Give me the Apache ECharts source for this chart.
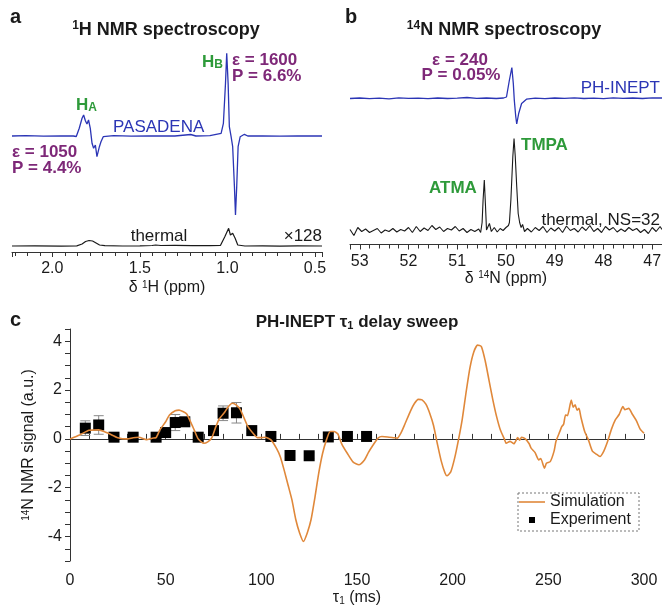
<!DOCTYPE html>
<html>
<head>
<meta charset="utf-8">
<script src="https://cdn.jsdelivr.net/npm/echarts/dist/echarts.min.js"></script>
<style>
  html, body { margin: 0; padding: 0; background: #fff; }
  #chart { width: 662px; height: 608px; }
</style>
</head>
<body>
<div id="chart"></div>
<script>
// panel a: 1H spectra, [ppm, signal]
const pasadena = [
  [2.23, 116], [2.15, 116.3], [2.05, 115.8], [1.95, 116.2], [1.88, 116], [1.863, 115.5],
  [1.846, 123.7], [1.83, 133.7], [1.821, 137], [1.811, 131.3], [1.802, 128], [1.793, 132],
  [1.783, 123.7], [1.773, 108.7], [1.764, 103.7], [1.754, 107], [1.745, 95.3], [1.731, 105.3],
  [1.722, 110.3], [1.709, 115.3], [1.65, 116.3], [1.55, 115.8], [1.45, 116.2], [1.3, 116],
  [1.21, 117.5], [1.18, 116], [1.1, 116.3], [1.036, 118.7], [1.023, 128.7], [1.011, 168.7],
  [1.004, 198.7], [0.996, 168.7], [0.989, 125.3], [0.979, 115.3], [0.97, 105.3], [0.96, 65.3],
  [0.954, 37], [0.947, 65.3], [0.939, 105.3], [0.927, 115.3], [0.903, 117.7], [0.884, 116],
  [0.8, 116.2], [0.7, 115.9], [0.6, 116.1], [0.46, 116]
];
const thermalH = [
  [2.23, 6], [2.1, 6.2], [1.95, 5.9], [1.86, 6.1], [1.83, 8], [1.81, 10.5], [1.79, 11.5],
  [1.77, 11], [1.75, 9], [1.73, 7], [1.7, 6.3], [1.6, 6], [1.5, 6.2], [1.43, 6.5], [1.42, 8],
  [1.41, 7], [1.38, 6.5], [1.3, 6.6], [1.2, 6.3], [1.1, 6.4], [1.04, 6.5], [1.03, 8],
  [1.015, 15.3], [1.004, 17], [0.993, 23.7], [0.983, 17], [0.97, 18.7], [0.956, 13.7],
  [0.941, 7], [0.9, 6], [0.8, 6.2], [0.7, 5.9], [0.6, 6.1], [0.46, 6]
];

// panel b: 14N spectra, [ppm, signal]
const phInept = [
  [53.2, 146], [53.0, 146.5], [52.8, 145.8], [52.6, 146.3], [52.4, 145.7], [52.2, 146.7],
  [52.0, 146.1], [51.8, 146.4], [51.6, 145.8], [51.4, 146.5], [51.2, 146], [51.0, 146.3],
  [50.8, 147], [50.6, 146.1], [50.4, 146.5], [50.2, 146], [50.05, 146.5], [49.99, 147.5],
  [49.93, 164.5], [49.88, 177], [49.85, 161], [49.83, 144.5], [49.8, 128], [49.78, 120.5],
  [49.74, 131], [49.68, 141], [49.58, 145.3], [49.4, 146.3], [49.2, 145.8], [49.0, 146.5],
  [48.8, 146.1], [48.6, 146.7], [48.4, 146], [48.2, 146.4], [48.0, 145.9], [47.8, 146.6],
  [47.6, 146.1], [47.4, 146.5], [47.2, 146], [47.0, 146.7], [46.8, 146.5]
];
const thermalN = [
  [53.2, 15], [53.12, 9], [53.04, 17], [52.96, 13], [52.88, 15.5], [52.8, 12], [52.72, 14],
  [52.64, 16], [52.56, 11.5], [52.48, 14.5], [52.4, 13], [52.32, 16], [52.24, 12.5], [52.16, 15],
  [52.08, 13.5], [52.0, 17], [51.92, 12], [51.84, 18], [51.76, 13], [51.68, 16.5], [51.6, 14],
  [51.52, 19], [51.44, 15], [51.36, 17.5], [51.28, 13], [51.2, 16], [51.12, 14.5], [51.04, 18],
  [50.96, 13.5], [50.88, 16], [50.8, 12], [50.72, 15], [50.64, 13], [50.56, 15.5], [50.52, 12],
  [50.49, 22], [50.47, 44.5], [50.445, 64.5], [50.42, 38], [50.4, 14.5], [50.37, 16], [50.34, 21],
  [50.3, 13], [50.24, 17], [50.18, 12.5], [50.12, 16], [50.06, 14], [50.0, 17], [49.95, 19],
  [49.93, 22], [49.9, 44.5], [49.86, 88], [49.835, 106], [49.81, 88], [49.78, 58], [49.75, 31],
  [49.72, 22], [49.69, 17], [49.66, 20], [49.62, 13], [49.56, 16], [49.48, 12.5], [49.4, 17],
  [49.32, 14], [49.24, 18], [49.16, 12], [49.08, 16.5], [49.0, 13.5], [48.92, 17], [48.84, 12],
  [48.76, 18.5], [48.68, 14], [48.6, 16], [48.52, 12.5], [48.44, 17.5], [48.36, 14], [48.28, 19],
  [48.2, 13], [48.12, 16], [48.04, 12], [47.96, 18], [47.88, 14.5], [47.8, 17], [47.72, 12.5],
  [47.64, 15.5], [47.56, 13], [47.48, 17], [47.4, 14], [47.32, 16], [47.24, 12], [47.16, 15],
  [47.08, 11], [47.0, 17], [46.92, 13], [46.84, 18], [46.8, 15]
];

// panel c: tau1 sweep
const simulation = [
  [0, 0], [5, 0.16], [10, 0.35], [15, 0.37], [20, 0.23], [25, 0.05], [30, 0], [33, 0.05],
  [36, 0.07], [40, -0.03], [43, 0.03], [45, 0.05], [47, 0.37], [50, 0.7], [52, 0.98],
  [55, 1.15], [57, 1.18], [59, 1.12], [61, 1.02], [63, 0.7], [65, 0.35], [67, 0], [70, -0.18],
  [72, -0.12], [74, 0.03], [76, 0.45], [78, 0.82], [81, 1.11], [83, 1.35], [85, 1.46],
  [87, 1.38], [89, 1.2], [91, 0.85], [93, 0.5], [96, 0.2], [98, 0.05], [100, 0.05],
  [102, 0.07], [105, -0.04], [108, -0.4], [110, -0.75], [112, -1.3], [114, -1.9], [116, -2.5],
  [118, -3.3], [120, -3.85], [122, -4.2], [124, -3.85], [126, -3.3], [128, -2.4], [130, -1.4],
  [132, -0.6], [134, -0.05], [136, 0.3], [138, 0.3], [140, 0.2], [142, -0.2], [145, -0.6],
  [148, -0.95], [151, -1.06], [154, -0.85], [156, -0.55], [158, -0.3], [161, 0.03], [163, 0.1],
  [166, 0.08], [169, 0.05], [171, 0.03], [173, 0.25], [175, 0.6], [178, 1.15], [180, 1.45],
  [182, 1.62], [184, 1.6], [186, 1.42], [188, 1.05], [190, 0.55], [192, -0.2], [194, -0.9],
  [196, -1.4], [197, -1.51], [199, -1.35], [201, -0.8], [203, -0.05], [205, 0.8], [207, 1.9],
  [209, 2.9], [211, 3.55], [213, 3.84], [215, 3.78], [217, 3.2], [219, 2.4], [221, 1.6],
  [223, 0.9], [225, 0.35], [227, 0], [228, -0.18], [230, -0.1], [232, -0.2], [234, 0.05],
  [235, -0.05], [236, 0.07], [238, 0], [240, -0.2], [241, -0.38], [243, -0.55], [245, -0.86],
  [246, -0.8], [248, -1.2], [249, -1.0], [251, -0.93], [253, -0.5], [254, -0.1], [256, 0.3],
  [257, 0.5], [258, 0.6], [259, 0.98], [260, 0.95], [262, 1.59], [263, 1.3], [264, 1.4],
  [265, 1.18], [266, 1.25], [267, 0.9], [269, 0.3], [271, -0.05], [273, -0.5], [275, -0.62],
  [277, -0.72], [279, -0.5], [281, -0.1], [283, 0.4], [285, 0.78], [287, 1.0], [289, 1.32],
  [290, 1.2], [292, 1.25], [294, 1.0], [296, 0.75], [298, 0.4], [300, 0.23]
];
const expTau = [8, 15, 23, 33, 45, 50, 55, 60, 67, 75, 80, 87, 95, 105, 115, 125, 135, 145, 155];
const expSignal = [0.44, 0.57, 0.07, 0.07, 0.07, 0.26, 0.67, 0.7, 0.07, 0.34, 1.05, 1.07, 0.34, 0.1, -0.68, -0.69, 0.08, 0.1, 0.1];
const expError = [0.3, 0.38, 0.12, 0.12, 0.12, 0.12, 0.33, 0.15, 0.12, 0.12, 0.3, 0.42, 0.12, 0.12, 0.12, 0.12, 0.12, 0.12, 0.12];

const FONT = '"Liberation Sans", Arial, sans-serif';
const BLUE = '#2b35b5';
const PURPLE = '#7e2878';
const GREEN = '#2e9a3a';
const ORANGE = '#e0883a';
const INK = '#1a1a1a';

const supRich = {
  sup: { fontSize: 10, verticalAlign: 'top', lineHeight: 16 },
  sub: { fontSize: 10, verticalAlign: 'bottom', lineHeight: 16 }
};

function label (text, x, y, opts) {
  return {
    type: 'text',
    x: x,
    y: y,
    style: Object.assign({
      text: text,
      fontFamily: FONT,
      fontSize: 17,
      fontWeight: 'bold',
      fill: INK,
      textAlign: 'left',
      textVerticalAlign: 'middle'
    }, opts || {})
  };
}

const boldSup = {
  sup: { fontSize: 12, fontWeight: 'bold', verticalAlign: 'top', lineHeight: 20 },
  t: { fontSize: 18, fontWeight: 'bold', lineHeight: 20 }
};

const chart = echarts.init(document.getElementById('chart'));

const spectrumAxis = (gridIndex, min, max, nameText, nameGap, minorSplit, splitNumber, digits) => ({
  type: 'value',
  gridIndex: gridIndex,
  inverse: true,
  min: min,
  max: max,
  splitNumber: splitNumber,
  name: nameText,
  nameLocation: 'middle',
  nameGap: nameGap,
  nameTextStyle: { fontFamily: FONT, fontSize: 16, color: INK, rich: supRich },
  axisLine: { lineStyle: { color: '#333', width: 1 } },
  axisTick: { length: 5, lineStyle: { color: '#333' } },
  minorTick: { show: true, splitNumber: minorSplit, length: 4, lineStyle: { color: '#333' } },
  axisLabel: {
    fontFamily: FONT, fontSize: 16, color: INK, margin: 9,
    showMinLabel: false, showMaxLabel: false,
    formatter: (v) => v.toFixed(digits)
  },
  splitLine: { show: false }
});

chart.setOption({
  animation: false,
  grid: [
    { left: 12, top: 45, width: 310, height: 207, outerBoundsMode: 'none', containLabel: false },
    { left: 350, top: 37.5, width: 312, height: 207, outerBoundsMode: 'none', containLabel: false },
    { left: 70, top: 329, width: 574, height: 232, outerBoundsMode: 'none', containLabel: false }
  ],
  xAxis: [
    spectrumAxis(0, 0.46, 2.23, 'δ {sup|1}H (ppm)', 28, 7, 4, 1),
    spectrumAxis(1, 46.8, 53.2, 'δ {sup|14}N (ppm)', 26, 5, 6, 0),
    {
      type: 'value',
      gridIndex: 2,
      min: 0,
      max: 300,
      interval: 50,
      name: 'τ{sub|1} (ms)',
      nameLocation: 'middle',
      nameGap: 28,
      nameTextStyle: { fontFamily: FONT, fontSize: 16, color: INK, rich: supRich },
      axisLine: { lineStyle: { color: '#333' } },
      axisTick: { inside: true, length: 5, lineStyle: { color: '#333' } },
      minorTick: { show: true, splitNumber: 5, length: 5, lineStyle: { color: '#333' } },
      axisLabel: { fontFamily: FONT, fontSize: 16, color: INK, margin: 12 },
      splitLine: { show: false }
    }
  ],
  yAxis: [
    { type: 'value', gridIndex: 0, min: 0, max: 207, show: false },
    { type: 'value', gridIndex: 1, min: 0, max: 207, show: false },
    {
      type: 'value',
      gridIndex: 2,
      min: -5,
      max: 4.5,
      interval: 0.5,
      name: '{sup|14}N NMR signal (a.u.)',
      nameLocation: 'middle',
      nameGap: 32,
      nameTextStyle: { fontFamily: FONT, fontSize: 16, color: INK, rich: supRich },
      axisLine: { show: true, lineStyle: { color: '#333' } },
      axisTick: { show: true, length: 5, lineStyle: { color: '#333' } },
      axisLabel: {
        fontFamily: FONT,
        fontSize: 16,
        color: INK,
        margin: 8,
        formatter: (v) => (Math.abs(v % 2) < 1e-9 && v > -5 && v < 4.5) ? String(v) : ''
      },
      splitLine: { show: false }
    }
  ],
  legend: {
    left: 519,
    top: 494,
    orient: 'vertical',
    padding: 0,
    itemGap: 2,
    itemWidth: 26,
    itemHeight: 6,
    data: [
      { name: 'Simulation', icon: 'path://M0,0L26,0L26,1.6L0,1.6Z' },
      { name: 'Experiment', icon: 'path://M0,0L6,0L6,6L0,6Z' }
    ],
    textStyle: { fontFamily: FONT, fontSize: 16, color: INK, lineHeight: 16 }
  },
  series: [
    {
      type: 'line', xAxisIndex: 0, yAxisIndex: 0, data: pasadena,
      symbol: 'none', lineStyle: { color: BLUE, width: 1.3 }, silent: true
    },
    {
      type: 'line', xAxisIndex: 0, yAxisIndex: 0, data: thermalH,
      symbol: 'none', lineStyle: { color: INK, width: 1.2 }, silent: true
    },
    {
      type: 'line', xAxisIndex: 1, yAxisIndex: 1, data: phInept,
      symbol: 'none', lineStyle: { color: BLUE, width: 1.3 }, silent: true
    },
    {
      type: 'line', xAxisIndex: 1, yAxisIndex: 1, data: thermalN,
      symbol: 'none', lineStyle: { color: INK, width: 1.1 }, silent: true
    },
    {
      name: 'Simulation',
      type: 'line', xAxisIndex: 2, yAxisIndex: 2, data: simulation,
      smooth: 0.2, symbol: 'none', itemStyle: { color: ORANGE },
      lineStyle: { color: ORANGE, width: 1.6 }
    },
    {
      type: 'custom', xAxisIndex: 2, yAxisIndex: 2,
      data: expTau.map((t, i) => [t, expSignal[i] - expError[i], expSignal[i] + expError[i]]),
      renderItem: (params, api) => {
        const top = api.coord([api.value(0), api.value(2)]);
        const bot = api.coord([api.value(0), api.value(1)]);
        const w = 5;
        const st = { stroke: '#888', lineWidth: 1 };
        return {
          type: 'group',
          children: [
            { type: 'line', shape: { x1: top[0], y1: top[1], x2: bot[0], y2: bot[1] }, style: st },
            { type: 'line', shape: { x1: top[0] - w, y1: top[1], x2: top[0] + w, y2: top[1] }, style: st },
            { type: 'line', shape: { x1: bot[0] - w, y1: bot[1], x2: bot[0] + w, y2: bot[1] }, style: st }
          ]
        };
      }
    },
    {
      name: 'Experiment',
      type: 'scatter', xAxisIndex: 2, yAxisIndex: 2,
      data: expTau.map((t, i) => [t, expSignal[i]]),
      symbol: 'rect', symbolSize: 11, itemStyle: { color: '#000', opacity: 1 }
    }
  ],
  graphic: [
    label('a', 10, 17, { fontSize: 20 }),
    label('{sup|1}{t|H NMR spectroscopy}', 166, 30, { textAlign: 'center', rich: boldSup }),
    label('b', 345, 17, { fontSize: 20 }),
    label('{sup|14}{t|N NMR spectroscopy}', 504, 30, { textAlign: 'center', rich: boldSup }),
    label('c', 10, 320, { fontSize: 20 }),
    label('PH-INEPT τ{s|1} delay sweep', 357, 322, {
      textAlign: 'center',
      rich: { s: { fontSize: 11, fontWeight: 'bold', verticalAlign: 'bottom', lineHeight: 18 } }
    }),
    // panel a labels
    label('H{s|A}', 76, 105, {
      fill: GREEN,
      rich: { s: { fontSize: 12, fontWeight: 'bold', verticalAlign: 'bottom', lineHeight: 18 } }
    }),
    label('H{s|B}', 202, 62, {
      fill: GREEN,
      rich: { s: { fontSize: 12, fontWeight: 'bold', verticalAlign: 'bottom', lineHeight: 17 } }
    }),
    label('ε = 1600', 232, 60, { fill: PURPLE }),
    label('P = 6.6%', 232, 76, { fill: PURPLE }),
    label('ε = 1050', 12, 152, { fill: PURPLE }),
    label('P = 4.4%', 12, 168, { fill: PURPLE }),
    label('PASADENA', 113, 127, { fill: BLUE, fontWeight: 'normal' }),
    label('thermal', 159, 236, { fontWeight: 'normal', textAlign: 'center' }),
    label('×128', 322, 236, { fontWeight: 'normal', textAlign: 'right' }),
    // panel b labels
    label('ε = 240', 460, 60, { fill: PURPLE, textAlign: 'center' }),
    label('P = 0.05%', 461, 75, { fill: PURPLE, textAlign: 'center' }),
    label('PH-INEPT', 660, 88, { fill: BLUE, fontWeight: 'normal', textAlign: 'right' }),
    label('TMPA', 521, 145, { fill: GREEN }),
    label('ATMA', 429, 188, { fill: GREEN }),
    label('thermal, NS=32', 660, 220, { fontWeight: 'normal', textAlign: 'right' }),
    // legend frame
    {
      type: 'rect',
      shape: { x: 518, y: 493, width: 121, height: 38 },
      style: { fill: 'none', stroke: '#777', lineWidth: 1, lineDash: [2, 2] },
      silent: true
    }
  ]
});
</script>
</body>
</html>
